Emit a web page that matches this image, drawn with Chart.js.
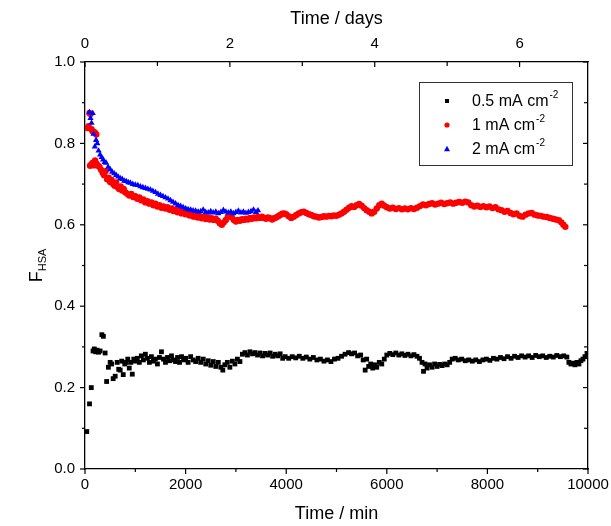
<!DOCTYPE html>
<html>
<head>
<meta charset="utf-8">
<script src="https://cdn.jsdelivr.net/npm/chart.js@4.4.1/dist/chart.umd.min.js"></script>
<style>
  html, body { margin: 0; padding: 0; background: #fff; }
  #wrap { width: 611px; height: 526px; }
</style>
</head>
<body>
<div id="wrap"><canvas id="c" width="611" height="526"></canvas></div>
<script>
// tick values
const minTicks = [0, 2000, 4000, 6000, 8000, 10000];
const minMinor = [1000, 3000, 5000, 7000, 9000];
const dayTicks = [0, 2, 4, 6];
const dayMinor = [1, 3, 5];
const fTicks = [0, 0.2, 0.4, 0.6, 0.8, 1.0];
const fMinor = [0.1, 0.3, 0.5, 0.7, 0.9];
const minPerDay = 1440;

const seriesNames = ['0.5 mA cm', '1 mA cm', '2 mA cm'];

// [time / min, F_HSA]
const black = [
  [35,.092],[90,.160],[125,.200],[160,.290],[185,.295],[210,.288],[240,.292],[270,.287],[300,.290],[335,.330],
  [365,.326],[400,.285],[430,.215],[465,.250],[500,.262],[530,.258],[560,.222],[600,.228],[640,.262],[670,.245],
  [700,.243],[730,.265],[760,.232],[790,.258],[820,.262],[850,.270],[880,.248],[910,.262],[940,.233],[970,.270],
  [1000,.265],[1040,.272],[1080,.262],[1120,.278],[1160,.268],[1200,.282],[1240,.272],[1280,.262],[1320,.276],[1360,.265],
  [1400,.270],[1440,.258],[1480,.274],[1520,.288],[1560,.270],[1600,.262],[1640,.274],[1680,.266],[1720,.278],[1760,.268],
  [1800,.264],[1840,.274],[1880,.262],[1920,.276],[1960,.268],[2000,.272],[2050,.262],[2100,.276],[2150,.268],[2200,.264],
  [2250,.272],[2300,.262],[2350,.270],[2400,.258],[2450,.266],[2500,.255],[2550,.264],[2600,.252],[2650,.262],[2700,.250],
  [2740,.243],[2780,.256],[2830,.262],[2880,.250],[2930,.265],[2980,.258],[3030,.270],[3080,.264],[3130,.282],[3180,.286],
  [3230,.280],[3280,.288],[3330,.283],[3380,.286],[3430,.280],[3480,.285],[3530,.278],[3580,.284],[3630,.280],[3680,.285],
  [3730,.277],[3780,.282],[3830,.278],[3880,.283],[3930,.272],[3980,.276],[4050,.272],[4120,.276],[4190,.273],[4260,.277],
  [4330,.272],[4400,.275],[4470,.270],[4540,.274],[4610,.268],[4680,.270],[4750,.265],[4820,.268],[4890,.264],[4960,.270],
  [5030,.272],[5100,.277],[5170,.282],[5240,.286],[5300,.283],[5360,.285],[5420,.278],[5480,.280],[5530,.268],[5570,.243],
  [5600,.270],[5640,.252],[5680,.258],[5720,.248],[5760,.256],[5800,.250],[5850,.262],[5900,.258],[5950,.270],[6000,.280],
  [6060,.284],[6120,.281],[6180,.285],[6240,.280],[6300,.283],[6360,.279],[6420,.282],[6480,.278],[6540,.281],[6600,.277],
  [6650,.272],[6700,.262],[6730,.240],[6760,.258],[6800,.248],[6850,.256],[6900,.250],[6950,.258],[7000,.252],[7050,.257],
  [7100,.254],[7150,.258],[7200,.256],[7250,.262],[7300,.270],[7360,.272],[7420,.268],[7490,.270],[7560,.266],[7630,.268],
  [7700,.265],[7770,.268],[7840,.264],[7910,.268],[7980,.270],[8050,.267],[8120,.272],[8190,.270],[8260,.274],[8330,.271],
  [8400,.276],[8470,.272],[8540,.277],[8610,.274],[8680,.278],[8750,.275],[8820,.278],[8890,.274],[8960,.279],[9030,.276],
  [9100,.278],[9170,.274],[9240,.277],[9310,.275],[9380,.279],[9450,.276],[9520,.278],[9580,.275],[9620,.262],[9660,.258],
  [9700,.260],[9740,.256],[9780,.262],[9820,.258],[9860,.266],[9900,.270],[9940,.276],[9980,.284]
];

const red = [
  [50,.838],[70,.842],[90,.875],[110,.872],[130,.835],[150,.830],[175,.828],[200,.826],[225,.822],
  [100,.745],[125,.748],[150,.752],[175,.746],[200,.758],[230,.750],[260,.745],[290,.742],[320,.735],[350,.728],
  [380,.722],[410,.732],[440,.712],[470,.716],[500,.705],[530,.710],[560,.700],[590,.696],[620,.704],[650,.692],
  [680,.688],[710,.694],[740,.684],[770,.688],[800,.680],[840,.676],[880,.672],[920,.676],[960,.668],[1000,.670],
  [1040,.664],[1080,.667],[1120,.660],[1160,.662],[1200,.655],[1240,.658],[1280,.652],[1320,.655],[1360,.648],[1400,.652],
  [1440,.645],[1480,.648],[1520,.642],[1560,.645],[1600,.640],[1640,.643],[1680,.637],[1720,.640],[1760,.634],[1800,.637],
  [1840,.631],[1880,.634],[1920,.628],[1960,.631],[2000,.626],[2040,.628],[2080,.623],[2120,.626],[2160,.620],[2200,.623],
  [2240,.618],[2280,.621],[2320,.616],[2360,.619],[2400,.614],[2440,.618],[2480,.613],[2520,.616],[2560,.612],[2600,.615],
  [2640,.610],[2680,.604],[2720,.600],[2760,.606],[2800,.612],[2840,.620],[2880,.625],[2920,.618],[2960,.612],[3000,.608],
  [3040,.612],[3080,.610],[3120,.614],[3160,.612],[3200,.615],[3240,.613],[3280,.617],[3320,.615],[3360,.618],[3400,.616],
  [3440,.619],[3480,.617],[3520,.620],[3560,.617],[3600,.615],[3640,.618],[3680,.616],[3720,.613],[3760,.616],[3800,.618],
  [3840,.621],[3880,.624],[3920,.627],[3960,.628],[4000,.626],[4050,.621],[4100,.617],[4150,.620],[4200,.624],[4250,.628],
  [4300,.631],[4350,.632],[4400,.629],[4450,.626],[4500,.624],[4550,.621],[4600,.620],[4650,.618],[4700,.619],[4750,.621],
  [4800,.620],[4850,.622],[4900,.621],[4950,.623],[5000,.622],[5050,.625],[5100,.628],[5150,.632],[5200,.637],[5250,.642],
  [5300,.646],[5350,.644],[5400,.648],[5450,.651],[5500,.647],[5550,.641],[5600,.636],[5650,.632],[5700,.628],[5750,.632],
  [5800,.640],[5850,.648],[5900,.652],[5950,.647],[6000,.643],[6060,.640],[6120,.642],[6180,.639],[6240,.641],[6300,.638],
  [6360,.640],[6420,.638],[6480,.641],[6540,.639],[6600,.642],[6660,.646],[6720,.650],[6780,.648],[6840,.651],[6900,.653],
  [6960,.650],[7020,.652],[7080,.654],[7140,.651],[7200,.653],[7260,.655],[7320,.652],[7380,.654],[7440,.656],[7500,.654],
  [7560,.657],[7620,.655],[7680,.648],[7740,.645],[7800,.647],[7860,.644],[7920,.646],[7980,.643],[8040,.645],[8100,.641],
  [8160,.643],[8220,.638],[8280,.636],[8340,.632],[8400,.634],[8460,.629],[8520,.626],[8580,.628],[8640,.622],[8700,.620],
  [8760,.625],[8820,.628],[8880,.629],[8940,.625],[9000,.623],[9060,.622],[9120,.620],[9180,.619],[9240,.617],[9300,.615],
  [9360,.613],[9420,.611],[9470,.606],[9510,.600],[9550,.595]
];

const blue = [
  [85,.876],[110,.862],[130,.850],[155,.874],[170,.823],[195,.792],[220,.808],[245,.800],[270,.782],[300,.772],
  [330,.766],[360,.760],[390,.754],[420,.752],[460,.742],[500,.736],[540,.730],[580,.726],[620,.722],[660,.718],
  [700,.714],[740,.712],[780,.708],[820,.707],[860,.704],[900,.703],[950,.700],[1000,.698],[1050,.697],[1100,.694],
  [1150,.692],[1200,.690],[1250,.688],[1300,.686],[1350,.683],[1400,.680],[1450,.676],[1500,.673],[1550,.670],[1600,.667],
  [1650,.664],[1700,.660],[1750,.656],[1800,.652],[1850,.648],[1900,.646],[1950,.643],[2000,.640],[2050,.638],[2100,.637],
  [2150,.635],[2200,.634],[2250,.632],[2300,.633],[2350,.637],[2400,.631],[2450,.630],[2500,.633],[2550,.630],[2600,.632],
  [2650,.628],[2700,.631],[2750,.636],[2800,.632],[2850,.630],[2900,.632],[2950,.628],[3000,.631],[3050,.634],[3100,.630],
  [3150,.632],[3200,.629],[3250,.631],[3300,.633],[3350,.637],[3400,.631],[3440,.635]
];

const FONT = '"Liberation Sans", Arial, sans-serif';
const toXY = arr => arr.map(p => ({ x: p[0], y: p[1] }));
const setTicks = vals => s => { s.ticks = vals.map(v => ({ value: v })); };
const frameBorder = { display: true, color: '#000', width: 1.3 };
const fixHeight = h => s => { s.height = h; s.paddingLeft = 0; s.paddingRight = 0; };

// ticks, y title and legend drawn on top of the chart
const decor = {
  id: 'decor',
  afterDraw(chart) {
    const { ctx, chartArea: a, scales } = chart;
    ctx.save();
    ctx.strokeStyle = '#000';
    ctx.lineWidth = 1.2;
    const line = (x1, y1, x2, y2) => { ctx.beginPath(); ctx.moveTo(x1, y1); ctx.lineTo(x2, y2); ctx.stroke(); };

    minTicks.forEach(v => { const p = scales.x.getPixelForValue(v); line(p, a.bottom, p, a.bottom + 5); });
    minMinor.forEach(v => { const p = scales.x.getPixelForValue(v); line(p, a.bottom, p, a.bottom + 3); });
    dayTicks.forEach(v => { const p = scales.x2.getPixelForValue(v); line(p, a.top, p, a.top + 5); });
    dayMinor.forEach(v => { const p = scales.x2.getPixelForValue(v); line(p, a.top, p, a.top + 4); });
    fTicks.forEach(v => {
      const p = scales.y.getPixelForValue(v);
      line(a.left - 5, p, a.left, p);
      line(a.right, p, a.right - 5, p);
    });
    fMinor.forEach(v => {
      const p = scales.y.getPixelForValue(v);
      line(a.left - 3, p, a.left, p);
      line(a.right, p, a.right - 4, p);
    });

    // y axis title F_HSA
    ctx.fillStyle = '#000';
    ctx.textBaseline = 'alphabetic';
    ctx.translate(42, (a.top + a.bottom) / 2);
    ctx.rotate(-Math.PI / 2);
    ctx.font = '18px ' + FONT;
    const wF = ctx.measureText('F').width;
    ctx.font = '11px ' + FONT;
    const wS = ctx.measureText('HSA').width;
    const x0 = -(wF + wS) / 2;
    ctx.font = '18px ' + FONT;
    ctx.fillText('F', x0, 0);
    ctx.font = '11px ' + FONT;
    ctx.fillText('HSA', x0 + wF, 4);
    ctx.restore();

    // legend
    ctx.save();
    ctx.strokeStyle = '#333';
    ctx.lineWidth = 1;
    ctx.strokeRect(419.5, 82.5, 153, 83);
    const rows = [101, 125, 149];
    chart.data.datasets.forEach((ds, i) => {
      const y = rows[i], mx = 447;
      ctx.fillStyle = ds.backgroundColor;
      ctx.beginPath();
      if (ds.pointStyle === 'rect') ctx.rect(mx - 2, y - 2, 4, 4);
      else if (ds.pointStyle === 'circle') ctx.arc(mx, y, 2.6, 0, Math.PI * 2);
      else { ctx.moveTo(mx, y - 3.2); ctx.lineTo(mx + 3, y + 2.2); ctx.lineTo(mx - 3, y + 2.2); ctx.closePath(); }
      ctx.fill();
      ctx.fillStyle = '#000';
      ctx.textBaseline = 'middle';
      ctx.font = '16px ' + FONT;
      ctx.fillText(seriesNames[i], 472, y + 1);
      const w = ctx.measureText(seriesNames[i]).width;
      ctx.font = '10px ' + FONT;
      ctx.fillText('-2', 473 + w, y - 6);
    });
    ctx.restore();
  }
};

new Chart(document.getElementById('c'), {
  type: 'scatter',
  data: {
    datasets: [
      {
        label: seriesNames[0], data: toXY(black), order: 2,
        pointStyle: 'rect', pointRadius: 3.4, pointBorderWidth: 0,
        backgroundColor: '#000000', borderColor: '#000000'
      },
      {
        label: seriesNames[1], data: toXY(red), order: 1,
        pointStyle: 'circle', pointRadius: 3.2, pointBorderWidth: 0,
        backgroundColor: '#ff0000', borderColor: '#ff0000'
      },
      {
        label: seriesNames[2], data: toXY(blue), order: 0,
        pointStyle: 'triangle', pointRadius: 3.6, pointBorderWidth: 0,
        backgroundColor: '#0000ff', borderColor: '#0000ff'
      }
    ]
  },
  options: {
    responsive: false,
    animation: false,
    devicePixelRatio: 1,
    layout: { padding: 0 },
    plugins: { legend: { display: false }, tooltip: { enabled: false } },
    scales: {
      x: {
        type: 'linear', position: 'bottom', min: 0, max: 10000,
        afterBuildTicks: setTicks(minTicks),
        afterFit: fixHeight(57),
        grid: { display: false, drawTicks: false },
        border: frameBorder,
        ticks: { color: '#000', padding: 7, maxRotation: 0, font: { size: 15, family: FONT }, callback: v => String(v) },
        title: { display: true, text: 'Time / min', color: '#000', font: { size: 18, family: FONT }, padding: { top: 0, bottom: 1 } }
      },
      x2: {
        type: 'linear', position: 'top', min: 0, max: 10000 / minPerDay,
        afterBuildTicks: setTicks(dayTicks),
        afterFit: fixHeight(62),
        grid: { display: false, drawTicks: false },
        border: frameBorder,
        ticks: { color: '#000', padding: 9, maxRotation: 0, font: { size: 15, family: FONT }, callback: v => String(v) },
        title: { display: true, text: 'Time / days', color: '#000', font: { size: 18, family: FONT }, padding: { top: 8, bottom: 0 } }
      },
      y: {
        type: 'linear', position: 'left', min: 0, max: 1,
        afterBuildTicks: setTicks(fTicks),
        afterFit: s => { s.width = 85; s.paddingTop = 0; s.paddingBottom = 0; },
        grid: { display: false, drawTicks: false },
        border: frameBorder,
        ticks: { color: '#000', padding: 10, font: { size: 15, family: FONT }, callback: v => v.toFixed(1) }
      },
      y2: {
        type: 'linear', position: 'right', min: 0, max: 1,
        afterFit: s => { s.width = 23; s.paddingTop = 0; s.paddingBottom = 0; },
        grid: { display: false, drawTicks: false },
        border: frameBorder,
        ticks: { display: false }
      }
    }
  },
  plugins: [decor]
});
</script>
</body>
</html>
